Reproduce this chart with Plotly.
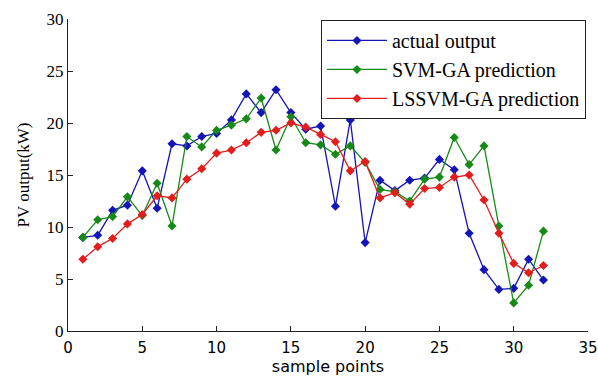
import plotly.graph_objects as go

sample_points = list(range(1, 33))
actual_output = [9.0, 9.2, 11.6, 12.1, 15.4, 11.8, 18.0, 17.8, 18.7, 19.0, 20.3, 22.8, 21.0, 23.2, 21.0, 19.4,
                 19.7, 12.0, 20.3, 8.5, 14.5, 13.5, 14.5, 14.7, 16.5, 15.5, 9.4, 5.9, 4.0, 4.1, 6.9, 4.9]
svm_ga = [9.0, 10.7, 11.0, 12.9, 11.1, 14.2, 10.1, 18.7, 17.7, 19.3, 19.8, 20.4, 22.4, 17.4, 20.6, 18.1,
          17.9, 17.0, 17.8, 16.2, 13.6, 13.4, 12.5, 14.6, 14.8, 18.6, 16.0, 17.8, 10.1, 2.7, 4.4, 9.6]
lssvm_ga = [6.9, 8.1, 8.9, 10.3, 11.2, 13.0, 12.8, 14.6, 15.6, 17.1, 17.4, 18.1, 19.1, 19.3, 20.0, 19.6,
            18.9, 18.2, 15.4, 16.3, 12.8, 13.3, 12.2, 13.7, 13.8, 14.8, 15.0, 12.6, 9.4, 6.5, 5.6, 6.3]

series_names = ["actual output", "SVM-GA prediction", "LSSVM-GA prediction"]
series_colors = ["#1414b8", "#168a16", "#e41c1c"]
x_ticks = [0, 5, 10, 15, 20, 25, 30, 35]
y_ticks = [0, 5, 10, 15, 20, 25, 30]

fig = go.Figure()
for name, vals, col in zip(series_names, [actual_output, svm_ga, lssvm_ga], series_colors):
    fig.add_trace(go.Scatter(
        x=sample_points, y=vals, name=name, mode="lines+markers",
        line=dict(color=col, width=1.3),
        marker=dict(symbol="diamond", size=7, color=col),
    ))

serif = "Liberation Serif, Times New Roman, serif"
sans = "DejaVu Sans, Arial, sans-serif"

fig.update_layout(
    width=598, height=376,
    margin=dict(l=68, r=10, t=19, b=45, autoexpand=False),
    paper_bgcolor="white", plot_bgcolor="white",
    showlegend=True,
    legend=dict(
        x=0.4865, y=0.997, xanchor="left", yanchor="top",
        xref="paper", yref="paper",
        bgcolor="white", bordercolor="#222222", borderwidth=1,
        font=dict(family=serif, size=20, color="black"),
        itemwidth=60, tracegroupgap=0,
    ),
    xaxis=dict(
        range=[0, 35], tickvals=x_ticks, ticktext=[str(v) for v in x_ticks],
        showgrid=False, zeroline=False, automargin=False,
        showline=True, linecolor="#222222", linewidth=1.2, mirror=False,
        ticks="inside", ticklen=5, tickcolor="#222222",
        ticklabeloverflow="allow", ticklabelstandoff=3,
        tickfont=dict(family=sans, size=15, color="black"),
        title=dict(text="sample points", font=dict(family=sans, size=16, color="black"), standoff=4),
    ),
    yaxis=dict(
        range=[0, 30], tickvals=y_ticks, ticktext=[str(v) for v in y_ticks],
        showgrid=False, zeroline=False, automargin=False,
        showline=True, linecolor="#222222", linewidth=1.2, mirror=False,
        ticks="inside", ticklen=5, tickcolor="#222222",
        tickfont=dict(family=serif, size=17, color="black"),
        title=dict(text="PV output(kW)", font=dict(family=serif, size=17, color="black"), standoff=12),
    ),
)

fig.write_html("out.html")
